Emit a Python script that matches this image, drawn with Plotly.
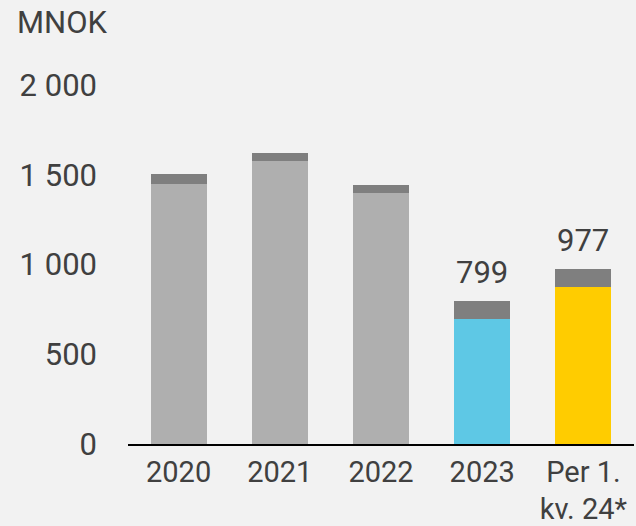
import plotly.graph_objects as go

categories = ["2020", "2021", "2022", "2023", "Per 1.<br>kv. 24*"]
base_values = [1447, 1577, 1400, 698, 872]
top_values = [55, 43, 41, 101, 105]
total_labels = ["", "", "", "799", "977"]
base_colors = ["#afafaf", "#afafaf", "#afafaf", "#5ec8e5", "#ffcc00"]
top_color = "#7f7f7f"
y_ticks = [0, 500, 1000, 1500, 2000]
y_tick_text = ["0", "500", "1 000", "1 500", "2 000"]

totals = [b + t for b, t in zip(base_values, top_values)]

font = dict(family="Roboto", size=31, color="#404040")
xfont = dict(family="Roboto", size=29, color="#404040")

fig = go.Figure()
fig.add_trace(go.Bar(x=categories, y=base_values, marker=dict(color=base_colors, line=dict(width=0)),
                     hoverinfo="skip"))
fig.add_trace(go.Bar(x=categories, y=top_values, marker=dict(color=top_color, line=dict(width=0)),
                     hoverinfo="skip"))

for i, (tot, lab) in enumerate(zip(totals, total_labels)):
    if lab:
        fig.add_annotation(x=i, y=tot, text=lab, showarrow=False, yanchor="bottom",
                           yshift=8, font=font)

fig.add_annotation(x=0, xref="paper", xanchor="left", xshift=-113, y=1, yref="paper",
                   yanchor="bottom", yshift=42, text="MNOK", showarrow=False, font=font)

fig.update_layout(
    barmode="stack",
    bargap=0.445,
    width=636, height=526,
    margin=dict(l=128, r=2, t=85, b=82),
    paper_bgcolor="#f2f2f2", plot_bgcolor="#f2f2f2",
    showlegend=False,
    font=font,
)
fig.update_xaxes(type="category", showline=True, linecolor="#000000", linewidth=1.5, ticks="",
                 showgrid=False, tickfont=xfont, range=[-0.5, 4.5], ticklabelstandoff=1,
                 automargin=False)
fig.update_yaxes(range=[0, 2000], tickvals=y_ticks, ticktext=y_tick_text, showgrid=False,
                 zeroline=False, showline=False, tickfont=font, ticklabelstandoff=30,
                 automargin=False)

fig.write_html("out.html", config={"displayModeBar": False},
               post_script="document.body.style.margin='0';document.body.style.overflow='hidden';")
